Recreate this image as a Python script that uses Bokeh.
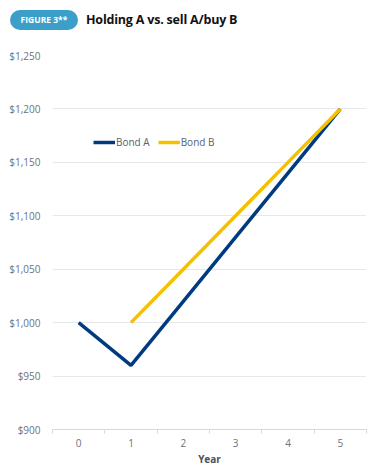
from bokeh.plotting import figure
from bokeh.models import (ColumnDataSource, FixedTicker, NumeralTickFormatter, Range1d,
                          Legend, LegendItem, Div)
from bokeh.layouts import column
from bokeh.embed import file_html
from bokeh.resources import INLINE

years = [0, 1, 2, 3, 4, 5]
bond_a = [1000, 960, 1020, 1080, 1140, 1200]
years_b = [1, 2, 3, 4, 5]
bond_b = [1000, 1050, 1100, 1150, 1200]
y_ticks = [900, 950, 1000, 1050, 1100, 1150, 1200, 1250]

FONT = "Open Sans"
TICK_COLOR = "#6b7280"

header = Div(
    text=(
        '<div style="position:relative;width:382px;height:48px;font-family:\'Open Sans\',sans-serif;">'
        '<div style="position:absolute;left:10px;top:10px;width:68px;height:20px;border-radius:10px;'
        'background:#3c9fc9;color:#fff;font-size:8.5px;font-weight:700;line-height:20px;text-align:center;">'
        'FIGURE 3**</div>'
        '<div style="position:absolute;left:86px;top:9px;font-size:12.5px;font-weight:700;color:#111;'
        'line-height:22px;letter-spacing:-0.2px;">Holding A vs. sell A/buy B</div>'
        '</div>'
    ),
    width=382, height=48, margin=(0, 0, 0, 0),
)

p = figure(width=382, height=420, output_backend="svg", toolbar_location=None,
           x_range=Range1d(-0.5, 5.5), y_range=Range1d(900, 1250),
           min_border_left=52, min_border_right=16, min_border_top=7, min_border_bottom=37,
           margin=(0, 0, 0, 0))
p.outline_line_color = None
p.background_fill_color = "white"

src_a = ColumnDataSource(dict(x=years, y=bond_a))
src_b = ColumnDataSource(dict(x=years_b, y=bond_b))
ra = p.line("x", "y", source=src_a, line_color="#003b82", line_width=3.5)
rb = p.line("x", "y", source=src_b, line_color="#f5c000", line_width=3.5)

# x axis
p.xaxis.ticker = FixedTicker(ticks=years, minor_ticks=[-0.5, 0.5, 1.5, 2.5, 3.5, 4.5, 5.5])
p.xaxis.major_tick_line_color = None
p.xaxis.major_tick_in = 0
p.xaxis.major_tick_out = 0
p.xaxis.minor_tick_line_color = "#d5d9e0"
p.xaxis.minor_tick_out = 4
p.xaxis.minor_tick_in = 0
p.xaxis.axis_line_color = "#d5d9e0"
p.xaxis.major_label_text_font = FONT
p.xaxis.major_label_text_font_size = "10px"
p.xaxis.major_label_text_color = TICK_COLOR
p.xaxis.major_label_standoff = 5
p.xaxis.axis_label = "Year"
p.xaxis.axis_label_text_font = FONT
p.xaxis.axis_label_text_font_style = "bold"
p.xaxis.axis_label_text_font_size = "10px"
p.xaxis.axis_label_text_color = "#4a5060"
p.xaxis.axis_label_standoff = 2
p.xgrid.grid_line_color = None

# y axis
p.yaxis.ticker = FixedTicker(ticks=y_ticks)
p.yaxis.formatter = NumeralTickFormatter(format="$0,0")
p.yaxis.axis_line_color = None
p.yaxis.major_tick_line_color = None
p.yaxis.major_tick_in = 0
p.yaxis.major_tick_out = 0
p.yaxis.minor_tick_line_color = None
p.yaxis.major_label_text_font = FONT
p.yaxis.major_label_text_font_size = "10px"
p.yaxis.major_label_text_color = TICK_COLOR
p.yaxis.major_label_standoff = 12
p.ygrid.ticker = FixedTicker(ticks=y_ticks)
p.ygrid.grid_line_color = "#e6e8ec"
p.ygrid.grid_line_width = 1

legend = Legend(items=[LegendItem(label="Bond A", renderers=[ra]),
                       LegendItem(label="Bond B", renderers=[rb])],
                orientation="horizontal", location=(41, 280),
                glyph_width=22, glyph_height=10, label_standoff=1, spacing=8,
                padding=0, margin=0, background_fill_alpha=0, border_line_color=None,
                label_text_font=FONT, label_text_font_size="10px", label_text_color="#5a6070",
                label_height=12)
p.add_layout(legend, "center")

layout = column(header, p, spacing=0, margin=(0, 0, 0, 0))
open("out.html", "w").write(file_html(layout, INLINE))
